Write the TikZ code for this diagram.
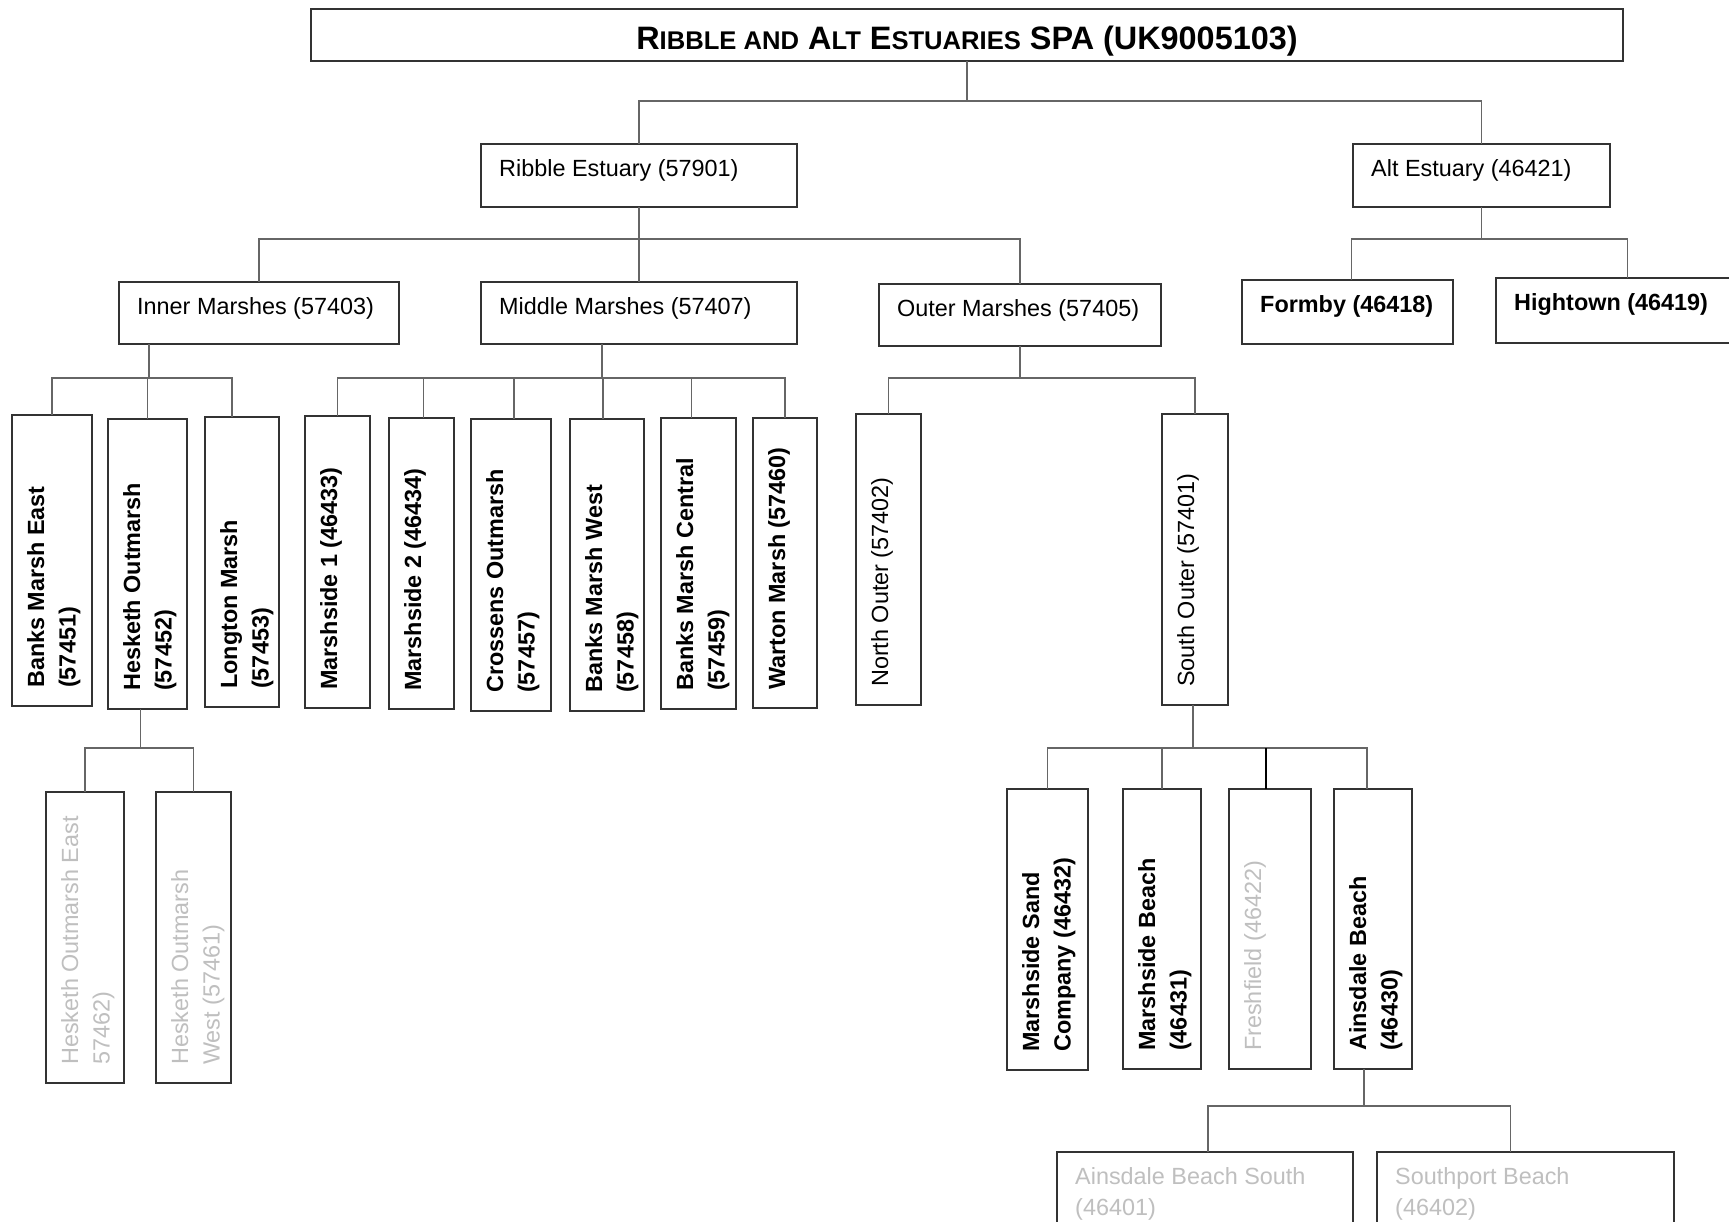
\documentclass[tikz,border=0pt]{standalone}
\usepackage{fontspec}
\setmainfont{Liberation Sans}
\newcommand{\tsmall}[1]{{\fontsize{25.6}{30}\selectfont #1}}
\begin{document}
\begin{tikzpicture}[x=1pt,y=-1pt,
  bx/.style={draw=black!80, line width=1.6pt, fill=white, inner sep=0pt, outer sep=0pt},
  conn/.style={draw=black!60, line width=1.4pt},
  lab/.style={inner xsep=18pt, inner ysep=15pt, align=left, font=\fontsize{23.4}{31.5}\selectfont},
  hlab/.style={lab, anchor=north west},
  vlab/.style={lab, rotate=90, anchor=north west},
  bf/.style={font=\bfseries\fontsize{23.4}{31.5}\selectfont},
  gr/.style={text=black!25}]
\useasboundingbox (0,0) rectangle (1729,1222);
\clip (0,0) rectangle (1729,1222);
\fill[white] (0,0) rectangle (1729,1222);

% junction levels
\coordinate (j0) at (967,101);
\coordinate (j1) at (640,239);
\coordinate (j2) at (1480,239);
\coordinate (j3) at (149,378);
\coordinate (j4) at (602,378);
\coordinate (j5) at (1022,378);
\coordinate (j6) at (140,748);
\coordinate (j7) at (1193,748);
\coordinate (j8) at (1364,1106);

% boxes
\node[bx, minimum width=1312pt, text height=41pt, text depth=11pt,
  font=\bfseries\fontsize{32.4}{38}\selectfont] (title) at (967,35)
  {R\tsmall{IBBLE AND} A\tsmall{LT} E\tsmall{STUARIES} SPA (UK9005103)};

\node[bx, minimum width=316pt, minimum height=63pt,
  label={[hlab]north west:Ribble Estuary (57901)}] (rib) at (639,175.5) {};
\node[bx, minimum width=257pt, minimum height=63pt,
  label={[hlab]north west:Alt Estuary (46421)}] (alt) at (1481.5,175.5) {};

\node[bx, minimum width=280pt, minimum height=62pt,
  label={[hlab]north west:Inner Marshes (57403)}] (inner) at (259,313) {};
\node[bx, minimum width=316pt, minimum height=62pt,
  label={[hlab]north west:Middle Marshes (57407)}] (mid) at (639,313) {};
\node[bx, minimum width=282pt, minimum height=62pt,
  label={[hlab]north west:Outer Marshes (57405)}] (outer) at (1020,315) {};
\node[bx, minimum width=211pt, minimum height=64pt,
  label={[hlab,bf]north west:Formby (46418)}] (formby) at (1347.5,312) {};
\node[bx, minimum width=239pt, minimum height=65pt,
  label={[hlab,bf]north west:Hightown (46419)}] (ht) at (1615.5,310.5) {};

\node[bx, minimum width=80pt, minimum height=291pt,
  label={[vlab,bf]south west:Banks Marsh East\\(57451)}] (bme) at (52,560.5) {};
\node[bx, minimum width=79pt, minimum height=290pt,
  label={[vlab,bf]south west:Hesketh Outmarsh\\(57452)}] (ho) at (147.5,564) {};
\node[bx, minimum width=74pt, minimum height=290pt,
  label={[vlab,bf]south west:Longton Marsh\\(57453)}] (lm) at (242,562) {};

\node[bx, minimum width=65pt, minimum height=292pt,
  label={[vlab,bf]south west:Marshside 1 (46433)}] (m1) at (337.5,562) {};
\node[bx, minimum width=65pt, minimum height=291pt,
  label={[vlab,bf]south west:Marshside 2 (46434)}] (m2) at (421.5,563.5) {};
\node[bx, minimum width=80pt, minimum height=292pt,
  label={[vlab,bf]south west:Crossens Outmarsh\\(57457)}] (cr) at (511,565) {};
\node[bx, minimum width=74pt, minimum height=292pt,
  label={[vlab,bf]south west:Banks Marsh West\\(57458)}] (bmw) at (607,565) {};
\node[bx, minimum width=75pt, minimum height=291pt,
  label={[vlab,bf]south west:Banks Marsh Central\\(57459)}] (bmc) at (698.5,563.5) {};
\node[bx, minimum width=64pt, minimum height=290pt,
  label={[vlab,bf]south west:Warton Marsh (57460)}] (wm) at (785,563) {};

\node[bx, minimum width=65pt, minimum height=291pt,
  label={[vlab]south west:North Outer (57402)}] (no) at (888.5,559.5) {};
\node[bx, minimum width=66pt, minimum height=291pt,
  label={[vlab]south west:South Outer (57401)}] (so) at (1195,559.5) {};

\node[bx, minimum width=78pt, minimum height=291pt,
  label={[vlab,gr]south west:Hesketh Outmarsh East\\57462)}] (hoe) at (85,937.5) {};
\node[bx, minimum width=75pt, minimum height=291pt,
  label={[vlab,gr]south west:Hesketh Outmarsh\\West (57461)}] (how) at (193.5,937.5) {};

\node[bx, minimum width=81pt, minimum height=281pt,
  label={[vlab,bf]south west:Marshside Sand\\Company (46432)}] (msc) at (1047.5,929.5) {};
\node[bx, minimum width=78pt, minimum height=280pt,
  label={[vlab,bf]south west:Marshside Beach\\(46431)}] (mb) at (1162,929) {};
\node[bx, minimum width=82pt, minimum height=280pt,
  label={[vlab,gr]south west:Freshfield (46422)}] (ff) at (1270,929) {};
\node[bx, minimum width=78pt, minimum height=280pt,
  label={[vlab,bf]south west:Ainsdale Beach\\(46430)}] (ab) at (1373,929) {};

\node[bx, minimum width=296pt, minimum height=96pt,
  label={[hlab,gr]north west:Ainsdale Beach South\\(46401)}] (abs) at (1205,1200) {};
\node[bx, minimum width=297pt, minimum height=96pt,
  label={[hlab,gr]north west:Southport Beach\\(46402)}] (sb) at (1525.5,1200) {};

% connectors
\draw[conn] (title.south) -- (title.south |- j0);
\draw[conn] (rib.north) |- (alt.north |- j0) -- (alt.north);

\draw[conn] (rib.south) -- (rib.south |- j1);
\draw[conn] (inner.north) |- (outer.north |- j1) -- (outer.north);
\draw[conn] (mid.north) -- (mid.north |- j1);

\draw[conn] (alt.south) -- (alt.south |- j2);
\draw[conn] ([xshift=4pt]formby.north) |- ([xshift=12pt]ht.north |- j2) -- ([xshift=12pt]ht.north);

\draw[conn] ([xshift=-110pt]inner.south) -- ([xshift=-110pt]inner.south |- j3);
\draw[conn] (bme.north) |- ([xshift=-10pt]lm.north |- j3) -- ([xshift=-10pt]lm.north);
\draw[conn] (ho.north) -- (ho.north |- j3);

\draw[conn] ([xshift=-37pt]mid.south) -- ([xshift=-37pt]mid.south |- j4);
\draw[conn] (m1.north) |- (wm.north |- j4) -- (wm.north);
\draw[conn] ([xshift=2pt]m2.north) -- ([xshift=2pt]m2.north |- j4);
\draw[conn] ([xshift=3pt]cr.north) -- ([xshift=3pt]cr.north |- j4);
\draw[conn] ([xshift=-4pt]bmw.north) -- ([xshift=-4pt]bmw.north |- j4);
\draw[conn] ([xshift=-7pt]bmc.north) -- ([xshift=-7pt]bmc.north |- j4);

\draw[conn] (outer.south) -- (outer.south |- j5);
\draw[conn] (no.north) |- (so.north |- j5) -- (so.north);

\draw[conn] ([xshift=-7pt]ho.south) -- ([xshift=-7pt]ho.south |- j6);
\draw[conn] (hoe.north) |- (how.north |- j6) -- (how.north);

\draw[conn] ([xshift=-2pt]so.south) -- ([xshift=-2pt]so.south |- j7);
\draw[conn] (msc.north) |- ([xshift=-6pt]ab.north |- j7) -- ([xshift=-6pt]ab.north);
\draw[conn] (mb.north) -- (mb.north |- j7);
\draw[conn, draw=black] ([xshift=-4pt]ff.north) -- ([xshift=-4pt]ff.north |- j7);

\draw[conn] ([xshift=-9pt]ab.south) -- ([xshift=-9pt]ab.south |- j8);
\draw[conn] ([xshift=3pt]abs.north) |- ([xshift=-15pt]sb.north |- j8) -- ([xshift=-15pt]sb.north);
\end{tikzpicture}
\end{document}
